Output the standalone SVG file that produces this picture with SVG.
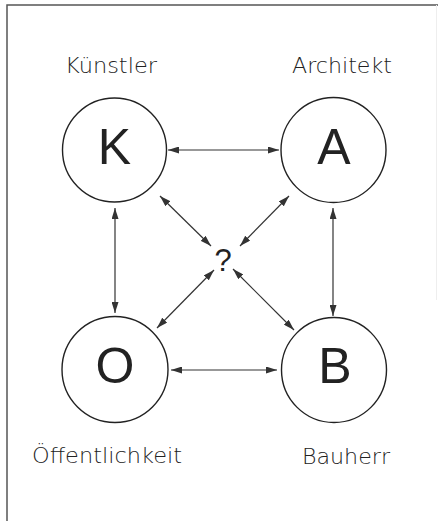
<svg xmlns="http://www.w3.org/2000/svg" width="438" height="521" viewBox="0 0 438 521">
<style>
.frame{fill:none;stroke:#555;stroke-width:1.5}
.node circle{fill:#fff;stroke:#222;stroke-width:1.4}
.big{font-family:"Liberation Sans",Arial,sans-serif;font-size:50px;fill:#222;text-anchor:middle}
.lab{font-family:"DejaVu Sans","Liberation Sans",sans-serif;font-weight:200;font-size:21px;fill:#222}
.q{font-family:"Liberation Sans",Arial,sans-serif;font-size:31px;fill:#222;text-anchor:middle}
#connectors line{stroke:#333;stroke-width:1.2;marker-start:url(#ah);marker-end:url(#ah)}
</style>
<defs>
<marker id="ah" viewBox="0 0 11 7" refX="11" refY="3.5" markerWidth="11" markerHeight="7" markerUnits="userSpaceOnUse" orient="auto-start-reverse">
<path d="M0,0 L11,3.5 L0,7 Z" fill="#333"/>
</marker>
</defs>
<rect width="438" height="521" fill="#fff"/>
<path class="frame" d="M7,521 V5 H438"/>
<line x1="436.5" y1="5" x2="436.5" y2="300" stroke="#eee" stroke-width="1"/>
<g id="connectors">
<line x1="168" y1="150" x2="279" y2="150"/>
<line x1="171" y1="370" x2="277" y2="370"/>
<line x1="115" y1="208" x2="115" y2="313"/>
<line x1="333" y1="208" x2="333" y2="316"/>
<line x1="160" y1="196" x2="211" y2="246"/>
<line x1="289" y1="196" x2="240" y2="246"/>
<line x1="214" y1="270" x2="157" y2="328"/>
<line x1="233" y1="269" x2="294" y2="330"/>
</g>
<g id="node-K" class="node">
<circle cx="114.5" cy="150" r="52"/>
<text class="big" x="114.5" y="164">K</text>
<text class="lab" x="65" y="73" textLength="92" lengthAdjust="spacingAndGlyphs">Künstler</text>
</g>
<g id="node-A" class="node">
<circle cx="333.5" cy="150" r="52.5"/>
<text class="big" x="334" y="164">A</text>
<text class="lab" x="292" y="73" textLength="100" lengthAdjust="spacingAndGlyphs">Architekt</text>
</g>
<g id="node-O" class="node">
<circle cx="115" cy="369.5" r="53"/>
<text class="big" x="115" y="383">O</text>
<text class="lab" x="32" y="463" textLength="150" lengthAdjust="spacingAndGlyphs">Öffentlichkeit</text>
</g>
<g id="node-B" class="node">
<circle cx="334" cy="370" r="52.5"/>
<text class="big" x="335" y="383">B</text>
<text class="lab" x="302" y="464" textLength="88" lengthAdjust="spacingAndGlyphs">Bauherr</text>
</g>
<g id="node-Q">
<text class="q" x="223" y="271">?</text>
</g>
</svg>
